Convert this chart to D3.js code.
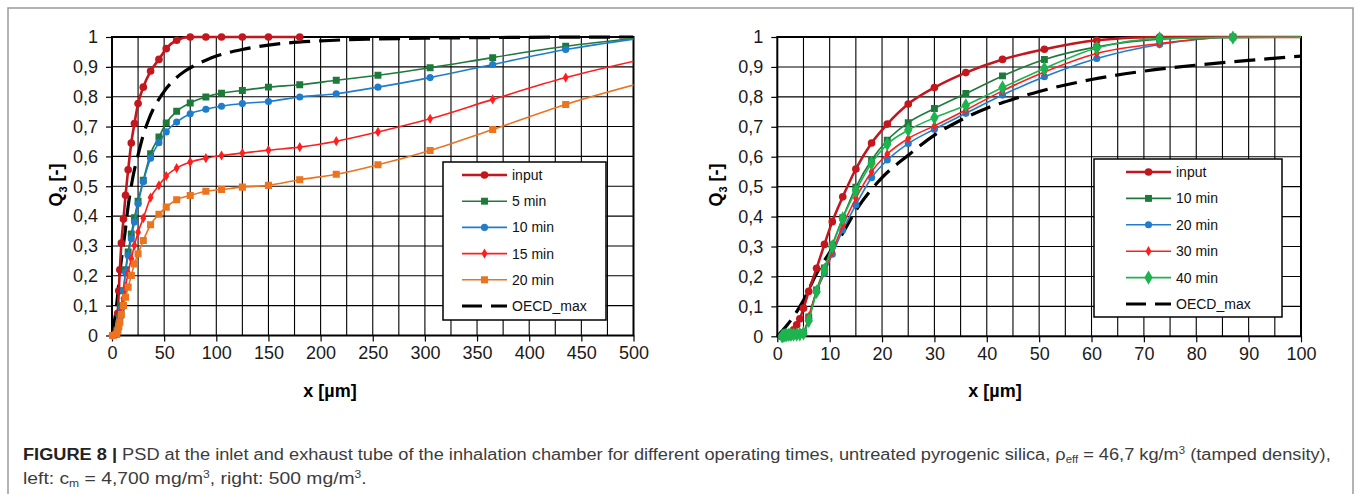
<!DOCTYPE html>
<html>
<head>
<meta charset="utf-8">
<script src="https://cdn.jsdelivr.net/npm/d3@7"></script>
<style>
body { margin: 0; background: #fff; }
svg { display: block; font-family: "Liberation Sans", Arial, sans-serif; }
</style>
</head>
<body>
<svg id="fig" width="1357" height="494"></svg>
<script>
// left panel: c_m = 4,700 mg/m3, size classes in µm
const leftX = [0.5, 4.5, 5.5, 6.5, 7.5, 9, 11, 13, 15.5, 18.5, 21.5, 25, 30, 37, 45, 52, 62, 75, 90, 105, 125, 150, 180, 215, 255, 305, 365, 435, 515];
const leftInput = [0, 0.02, 0.074, 0.15, 0.22, 0.31, 0.39, 0.47, 0.555, 0.645, 0.71, 0.777, 0.832, 0.886, 0.925, 0.961, 0.989, 1, 1, 1, 1, 1, 1];
const left5 = [0, 0.005, 0.02, 0.04, 0.065, 0.1, 0.15, 0.22, 0.28, 0.34, 0.395, 0.45, 0.52, 0.609, 0.665, 0.712, 0.751, 0.779, 0.799, 0.812, 0.821, 0.832, 0.84, 0.855, 0.872, 0.897, 0.931, 0.969, 1];
const left10 = [0, 0.005, 0.02, 0.04, 0.06, 0.09, 0.15, 0.212, 0.268, 0.324, 0.38, 0.441, 0.515, 0.594, 0.646, 0.682, 0.715, 0.743, 0.758, 0.768, 0.777, 0.784, 0.799, 0.81, 0.832, 0.864, 0.908, 0.958, 1];
const left15 = [0, 0.005, 0.02, 0.04, 0.06, 0.09, 0.125, 0.165, 0.21, 0.257, 0.302, 0.346, 0.393, 0.462, 0.503, 0.534, 0.561, 0.581, 0.594, 0.603, 0.611, 0.621, 0.631, 0.651, 0.682, 0.726, 0.791, 0.864, 0.93];
const left20 = [0, 0.005, 0.015, 0.03, 0.045, 0.07, 0.1, 0.128, 0.162, 0.201, 0.24, 0.274, 0.318, 0.371, 0.406, 0.43, 0.455, 0.469, 0.483, 0.489, 0.497, 0.503, 0.522, 0.54, 0.572, 0.62, 0.69, 0.774, 0.853];

// right panel: c_m = 500 mg/m3
const rightX = [0.9, 1.1, 1.3, 1.5, 1.8, 2.2, 2.6, 3.1, 3.7, 4.3, 5, 6, 7.5, 9, 10.5, 12.5, 15, 18, 21, 25, 30, 36, 43, 51, 61, 73, 87, 103];
const rightInput = [0, 0, 0, 0.002, 0.004, 0.007, 0.012, 0.022, 0.038, 0.058, 0.094, 0.15, 0.227, 0.307, 0.383, 0.466, 0.559, 0.646, 0.709, 0.776, 0.831, 0.881, 0.925, 0.959, 0.989, 1, 1, 1];
const right10 = [0, 0, 0, 0.002, 0.003, 0.004, 0.005, 0.006, 0.007, 0.008, 0.012, 0.065, 0.155, 0.228, 0.305, 0.396, 0.498, 0.589, 0.655, 0.714, 0.761, 0.811, 0.87, 0.925, 0.967, 0.993, 1, 1];
const right20 = [0, 0, 0, 0.001, 0.002, 0.003, 0.004, 0.005, 0.006, 0.007, 0.01, 0.06, 0.15, 0.21, 0.274, 0.355, 0.439, 0.53, 0.589, 0.644, 0.692, 0.745, 0.806, 0.867, 0.928, 0.975, 0.999, 1];
const right30 = [0, 0, 0, 0.001, 0.002, 0.003, 0.004, 0.005, 0.006, 0.008, 0.012, 0.065, 0.15, 0.215, 0.283, 0.37, 0.461, 0.55, 0.609, 0.661, 0.703, 0.756, 0.82, 0.883, 0.945, 0.978, 1, 1];
const right40 = [0, 0.002, 0.003, 0.004, 0.004, 0.005, 0.005, 0.006, 0.006, 0.007, 0.01, 0.052, 0.149, 0.222, 0.3, 0.394, 0.486, 0.578, 0.642, 0.689, 0.73, 0.772, 0.831, 0.895, 0.963, 0.995, 0.998, 1];

// OECD_max reference curve (same in both panels)
const oecdX = [0, 2, 5, 7.5, 10, 12.5, 15, 20, 25, 30, 35, 40, 45, 50, 60, 70, 80, 90, 100, 125, 150, 200, 250, 300, 400, 500];
const oecdY = [0, 0.04, 0.12, 0.21, 0.28, 0.345, 0.42, 0.53, 0.605, 0.672, 0.722, 0.762, 0.792, 0.818, 0.858, 0.886, 0.906, 0.922, 0.936, 0.958, 0.973, 0.987, 0.993, 0.996, 0.999, 1];

const yTicks = d3.range(0, 1.0001, 0.1);

const C = {
	darkRed: '#C3161D',
	darkGreen: '#1E7A3A',
	blue: '#1F7DCB',
	red: '#FF1E1E',
	orange: '#EA7420',
	green: '#1DB450'
};

const svg = d3.select('#fig');

// figure frame
svg.append('rect')
	.attr('x', 8).attr('y', 8).attr('width', 1345).attr('height', 520)
	.attr('fill', 'none').attr('stroke', '#9a9a9a').attr('stroke-width', 1.5);

function fmt(v) {
	if (Math.abs(v) < 1e-9) return '0';
	if (Math.abs(v - 1) < 1e-9) return '1';
	return d3.format('.1f')(v).replace('.', ',');
}

function seriesData(xs, ys) {
	return ys.map((v, i) => [xs[i], v]);
}

function drawPanel(p) {
	const x = d3.scaleLinear().domain([0, p.xMax]).range([p.left, p.right]);
	const y = d3.scaleLinear().domain([0, 1]).range([p.bottom, p.top]);
	const g = svg.append('g');

	// grid
	g.selectAll('.vg').data(d3.range(p.gridStep, p.xMax, p.gridStep)).join('line')
		.attr('x1', d => x(d)).attr('x2', d => x(d))
		.attr('y1', p.top).attr('y2', p.bottom)
		.attr('stroke', '#000').attr('stroke-width', 1.1);
	g.selectAll('.hg').data(yTicks.slice(1, -1)).join('line')
		.attr('y1', d => y(d)).attr('y2', d => y(d))
		.attr('x1', p.left).attr('x2', p.right)
		.attr('stroke', '#000').attr('stroke-width', 1.1);

	// axes
	const xAxis = d3.axisBottom(x)
		.tickValues(d3.range(0, p.xMax + 0.001, p.labelStep))
		.tickSize(6).tickPadding(5).tickFormat(d3.format('d'));
	const ax = g.append('g').attr('transform', `translate(0,${p.bottom})`).call(xAxis);
	const yAxis = d3.axisLeft(y).tickValues(yTicks).tickSize(6).tickPadding(8).tickFormat(fmt);
	const ay = g.append('g').attr('transform', `translate(${p.left},0)`).call(yAxis);
	[ax, ay].forEach(a => {
		a.select('.domain').remove();
		a.selectAll('line').attr('stroke', '#000').attr('stroke-width', 1.2);
		a.selectAll('text').style('font-size', '18px').style('font-family', '"Liberation Sans", Arial, sans-serif').attr('fill', '#1a1a1a');
	});

	// plot border
	g.append('rect')
		.attr('x', p.left).attr('y', p.top)
		.attr('width', p.right - p.left).attr('height', p.bottom - p.top)
		.attr('fill', 'none').attr('stroke', '#000').attr('stroke-width', 2);

	// axis titles
	g.append('text')
		.attr('x', p.xLabelX).attr('y', 397)
		.attr('text-anchor', 'middle')
		.style('font-size', '18px').style('font-weight', 'bold')
		.text('x [µm]');
	const yl = g.append('text')
		.attr('transform', `translate(${p.yLabelX},185) rotate(-90)`)
		.attr('text-anchor', 'middle')
		.style('font-size', '18px').style('font-weight', 'bold');
	yl.append('tspan').text('Q');
	yl.append('tspan').attr('dy', 5).style('font-size', '11px').text('3');
	yl.append('tspan').attr('dy', -5).text(' [-]');

	// clip for series that run past the axis end
	const clipId = 'clip-' + p.id;
	svg.append('clipPath').attr('id', clipId).append('rect')
		.attr('x', p.left - 8).attr('y', p.top - 8)
		.attr('width', p.right - p.left + 8).attr('height', p.bottom - p.top + 16);

	const plot = g.append('g').attr('clip-path', `url(#${clipId})`);
	const line = d3.line().x(d => x(d[0])).y(d => y(d[1])).curve(d3.curveMonotoneX);

	// dashed OECD_max
	const oecd = seriesData(oecdX, oecdY).filter(d => d[0] <= p.xMax);
	plot.append('path')
		.attr('d', line(oecd))
		.attr('fill', 'none').attr('stroke', '#000')
		.attr('stroke-width', 3.2).attr('stroke-dasharray', '21,9');

	p.series.forEach(s => {
		const data = seriesData(p.xs, s.values);
		plot.append('path')
			.attr('d', line(data))
			.attr('fill', 'none').attr('stroke', s.color).attr('stroke-width', s.width);
		const sym = d3.symbol().type(s.symbol).size(s.size);
		plot.selectAll(null).data(data.filter(d => d[0] <= p.xMax)).join('path')
			.attr('d', sym)
			.attr('transform', d => `translate(${x(d[0])},${y(d[1])})`)
			.attr('fill', s.color);
	});

	// legend
	const lg = g.append('g');
	lg.append('rect')
		.attr('x', p.legend.x).attr('y', p.legend.y)
		.attr('width', p.legend.w).attr('height', p.legend.h)
		.attr('fill', '#fff').attr('stroke', '#000').attr('stroke-width', 1.5);
	const items = p.series.map(s => s).concat([{ name: 'OECD_max', dashed: true }]);
	items.forEach((s, i) => {
		const yy = p.legend.row0 + i * p.legend.step;
		const lx0 = p.legend.x + p.legend.lineX;
		const lx1 = lx0 + 45;
		if (s.dashed) {
			lg.append('line')
				.attr('x1', lx0).attr('x2', lx1).attr('y1', yy).attr('y2', yy)
				.attr('stroke', '#000').attr('stroke-width', 3.2).attr('stroke-dasharray', '20,9');
		} else {
			lg.append('line')
				.attr('x1', lx0).attr('x2', lx1).attr('y1', yy).attr('y2', yy)
				.attr('stroke', s.color).attr('stroke-width', s.width);
			lg.append('path')
				.attr('d', d3.symbol().type(s.symbol).size(s.size))
				.attr('transform', `translate(${(lx0 + lx1) / 2},${yy})`)
				.attr('fill', s.color);
		}
		lg.append('text')
			.attr('x', lx1 + 5).attr('y', yy + 5)
			.style('font-size', '14px').attr('fill', '#111')
			.text(s.name);
	});
}

drawPanel({
	id: 'left',
	left: 112, right: 633.5, top: 37, bottom: 335.5,
	xMax: 500, gridStep: 25, labelStep: 50,
	xLabelX: 330, yLabelX: 62,
	xs: leftX,
	legend: { x: 443, y: 162, w: 163, h: 158, row0: 175, step: 26.2, lineX: 19 },
	series: [
		{ name: 'input', values: leftInput, color: C.darkRed, width: 2.6, symbol: d3.symbolCircle, size: 46 },
		{ name: '5 min', values: left5, color: C.darkGreen, width: 1.6, symbol: d3.symbolSquare, size: 48 },
		{ name: '10 min', values: left10, color: C.blue, width: 1.6, symbol: d3.symbolCircle, size: 40 },
		{ name: '15 min', values: left15, color: C.red, width: 1.6, symbol: d3.symbolDiamond, size: 30 },
		{ name: '20 min', values: left20, color: C.orange, width: 1.6, symbol: d3.symbolSquare, size: 50 }
	]
});

drawPanel({
	id: 'right',
	left: 777.3, right: 1301, top: 37, bottom: 336.3,
	xMax: 100, gridStep: 5, labelStep: 10,
	xLabelX: 995, yLabelX: 722,
	xs: rightX,
	legend: { x: 1094, y: 159, w: 188, h: 158, row0: 172, step: 26.4, lineX: 32 },
	series: [
		{ name: 'input', values: rightInput, color: C.darkRed, width: 2.6, symbol: d3.symbolCircle, size: 46 },
		{ name: '10 min', values: right10, color: C.darkGreen, width: 1.6, symbol: d3.symbolSquare, size: 48 },
		{ name: '20 min', values: right20, color: C.blue, width: 1.6, symbol: d3.symbolCircle, size: 40 },
		{ name: '30 min', values: right30, color: C.red, width: 1.6, symbol: d3.symbolDiamond, size: 30 },
		{ name: '40 min', values: right40, color: C.green, width: 1.6, symbol: d3.symbolDiamond, size: 60 }
	]
});

// caption, squeezed to the width of the original lines
function captionLine(yPos, width, build) {
	const t = svg.append('text').attr('x', 0).attr('y', 0)
		.style('font-size', '16px').attr('fill', '#3c3c3c');
	build(t);
	const w = t.node().getComputedTextLength();
	t.attr('transform', `translate(23,${yPos}) scale(${width / w},1)`);
}

captionLine(460, 1309, t => {
	t.append('tspan').style('font-weight', 'bold').attr('fill', '#222').text('FIGURE 8 | ');
	t.append('tspan').text('PSD at the inlet and exhaust tube of the inhalation chamber for different operating times, untreated pyrogenic silica, ρ');
	t.append('tspan').attr('dy', 3).style('font-size', '10px').text('eff');
	t.append('tspan').attr('dy', -3).text(' = 46,7 kg/m');
	t.append('tspan').attr('dy', -6).style('font-size', '10px').text('3');
	t.append('tspan').attr('dy', 6).text(' (tamped density),');
});

captionLine(484, 344, t => {
	t.append('tspan').text('left: c');
	t.append('tspan').attr('dy', 3).style('font-size', '10px').text('m');
	t.append('tspan').attr('dy', -3).text(' = 4,700 mg/m');
	t.append('tspan').attr('dy', -6).style('font-size', '10px').text('3');
	t.append('tspan').attr('dy', 6).text(', right: 500 mg/m');
	t.append('tspan').attr('dy', -6).style('font-size', '10px').text('3');
	t.append('tspan').attr('dy', 6).text('.');
});
</script>
</body>
</html>
